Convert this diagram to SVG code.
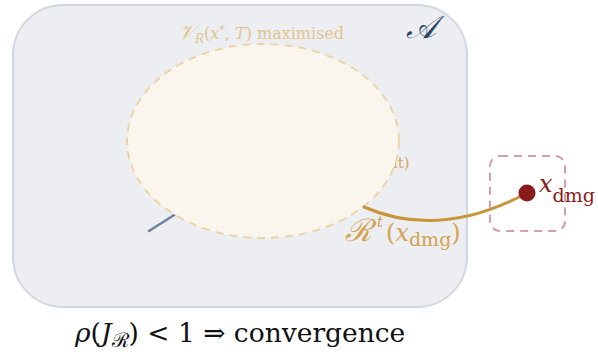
<svg xmlns="http://www.w3.org/2000/svg" width="598" height="358" viewBox="0 0 598 358">
  <style>
    .serif { font-family: "DejaVu Serif", "Liberation Serif", serif; }
    .lbl-basin { fill: #e2c48e; font-size: 16px; }
    .lbl-A { fill: #2a4466; font-size: 32px; font-style: italic; }
    .lbl-R { fill: #d4a34e; font-size: 24px; }
    .lbl-x { fill: #8b1a1a; font-size: 24px; }
    .lbl-conv { fill: #111111; font-size: 26.5px; }
    .it { font-style: italic; }
  </style>
  <rect width="598" height="358" fill="#ffffff"/>

  <g id="region-A">
    <rect x="13" y="5" width="454" height="302" rx="50" ry="50" fill="#eceef2" stroke="#d2d8e0" stroke-width="2"/>
    <text class="serif lbl-A" x="406" y="38">𝒜</text>
  </g>

  <g id="connectors">
    <line x1="149" y1="231" x2="182" y2="210" stroke="#6e829c" stroke-width="2.5" stroke-linecap="round"/>
  </g>

  <g id="fixed-point-label">
    <text class="serif" x="388" y="168" fill="#d4a860" font-size="15">nt)</text>
  </g>

  <g id="basin">
    <ellipse cx="263" cy="141" rx="136" ry="97" fill="#faf6ee" stroke="#ebd5a8" stroke-width="2" stroke-dasharray="8 6"/>
    <text class="serif lbl-basin" x="178" y="39"><tspan class="it" font-size="21">𝒱</tspan><tspan class="it" font-size="12" dy="4">R</tspan><tspan dy="-4">(</tspan><tspan class="it">x</tspan><tspan font-size="11" dy="-6">*</tspan><tspan dy="6">, </tspan><tspan class="it">T</tspan><tspan>) maximised</tspan></text>
  </g>

  <g id="trajectory">
    <path d="M 364 207 Q 440 240 527 193" fill="none" stroke="#c9953a" stroke-width="3" stroke-linecap="round"/>
    <text class="serif lbl-R" x="345" y="241"><tspan class="it" font-size="31">ℛ</tspan><tspan font-size="15" class="it" dx="5" dy="-14">t</tspan><tspan dx="3" dy="14">(</tspan><tspan class="it">x</tspan><tspan font-size="19" dy="5">dmg</tspan><tspan dy="-5">)</tspan></text>
  </g>

  <g id="damaged-state">
    <rect x="490" y="156" width="75" height="75" rx="10" ry="10" fill="none" stroke="#d4a0a6" stroke-width="2" stroke-dasharray="8 6"/>
    <circle cx="527" cy="193" r="8.5" fill="#8b1a1a"/>
    <text class="serif lbl-x" x="539" y="192"><tspan class="it">x</tspan><tspan font-size="19" dy="10">dmg</tspan></text>
  </g>

  <g id="caption">
    <text class="serif lbl-conv" x="75" y="342"><tspan class="it">ρ</tspan><tspan>(</tspan><tspan class="it">J</tspan><tspan font-size="20" dy="5">ℛ</tspan><tspan dy="-5">) &lt; 1 ⇒ convergence</tspan></text>
  </g>
</svg>
